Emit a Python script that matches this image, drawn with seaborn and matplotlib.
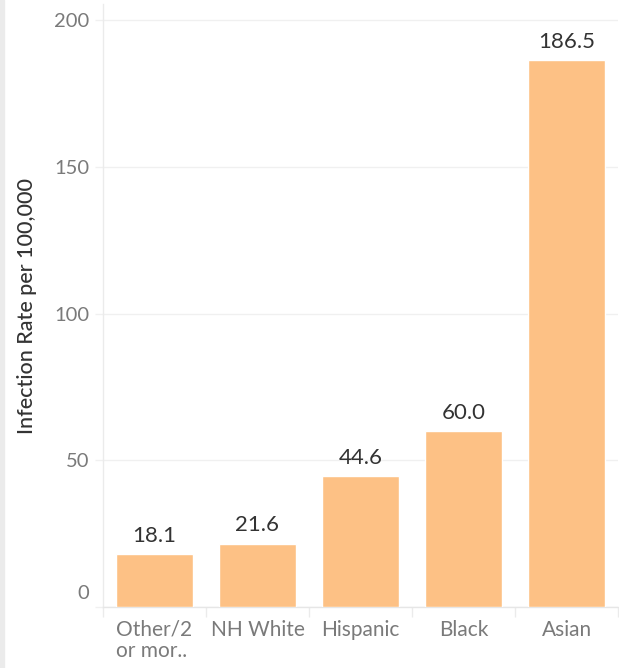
import matplotlib
matplotlib.use("Agg")
import matplotlib.pyplot as plt
import matplotlib.transforms as mtransforms
import seaborn as sns
import pandas as pd
from matplotlib.patches import Rectangle

# data
groups = ["Other/2\nor mor..", "NH White", "Hispanic", "Black", "Asian"]
rates = [18.1, 21.6, 44.6, 60.0, 186.5]
y_ticks = [0, 50, 100, 150, 200]

BAR = "#fdc185"
GRID = "#f0f0f0"
TICK_TXT = "#7a7a7a"
LABEL_TXT = "#333333"

sns.set_theme(style="white")
plt.rcParams["font.family"] = ["Lato", "DejaVu Sans"]

df = pd.DataFrame({"group": groups, "rate": rates})

fig = plt.figure(figsize=(6.19, 6.68), dpi=100)
# light grey strip at the far left edge
fig.patches.append(Rectangle((0, 0), 4 / 619, 1, transform=fig.transFigure,
                             color="#ebebeb", zorder=0))

ax = fig.add_axes([103 / 619, (668 - 607) / 668, 515 / 619, 603 / 668])
sns.barplot(data=df, x="group", y="rate", color=BAR, width=0.75,
            saturation=1, ax=ax, zorder=3)

ax.set_xlim(-0.5, len(groups) - 0.5)
ax.set_ylim(0, 205.6)
ax.set_yticks(y_ticks)
ax.yaxis.grid(True, color=GRID, linewidth=1)
ax.set_axisbelow(True)

for s in ["top", "right"]:
    ax.spines[s].set_visible(False)
ax.spines["left"].set_color("#ebebeb")
ax.spines["bottom"].set_color("#e6e6e6")
ax.spines["left"].set_linewidth(1)
ax.spines["bottom"].set_linewidth(1)

ax.tick_params(axis="y", length=6, width=1, color=GRID, pad=4,
               labelsize=14.5, labelcolor=TICK_TXT, left=True)
# zero label sits just above the baseline, as in the original
zero_lbl = ax.get_yticklabels()[0]
zero_lbl.set_transform(zero_lbl.get_transform() +
                       mtransforms.ScaledTranslation(0, 11 / 72, fig.dpi_scale_trans))

# category separators under the axis instead of centred ticks
ax.set_xticks([i - 0.5 for i in range(len(groups) + 1)], minor=True)
ax.tick_params(axis="x", which="minor", length=7, width=1, color="#ebebeb",
               bottom=True)
ax.tick_params(axis="x", which="major", length=0, pad=9,
               labelsize=15, labelcolor=TICK_TXT)
for t in ax.get_xticklabels():
    t.set_linespacing(1.1)
    t.set_verticalalignment("top")
    t.set_multialignment("left")

ax.set_xlabel("")
ax.set_ylabel("Infection Rate per 100,000", fontsize=15.5, color=LABEL_TXT,
              fontweight="medium")
ax.yaxis.set_label_coords(-0.128, 0.5)

for i, v in enumerate(rates):
    ax.annotate(f"{v:.1f}", (i, v), xytext=(0, 6), textcoords="offset points",
                ha="center", va="bottom", fontsize=16, color=LABEL_TXT)

fig.savefig("out.png", dpi=100)
